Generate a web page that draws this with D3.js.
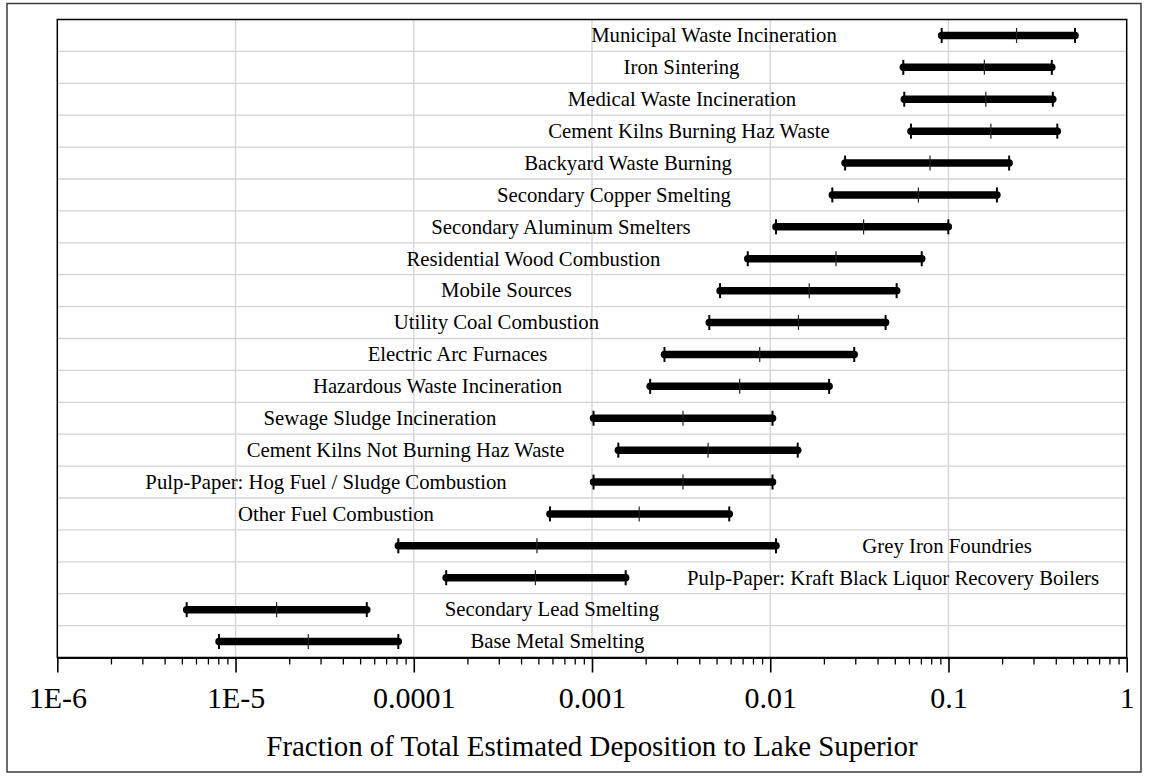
<!DOCTYPE html>
<html>
<head>
<meta charset="utf-8">
<script src="https://cdn.jsdelivr.net/npm/d3@7"></script>
<style>
  html, body { margin: 0; padding: 0; background: #fff; }
  svg { display: block; }
</style>
</head>
<body>
<svg id="chart" width="1149" height="776"></svg>
<script>
// ---- Data ----
const categories = [
  "Municipal Waste Incineration",
  "Iron Sintering",
  "Medical Waste Incineration",
  "Cement Kilns Burning Haz Waste",
  "Backyard Waste Burning",
  "Secondary Copper Smelting",
  "Secondary Aluminum Smelters",
  "Residential Wood Combustion",
  "Mobile Sources",
  "Utility Coal Combustion",
  "Electric Arc Furnaces",
  "Hazardous Waste Incineration",
  "Sewage Sludge Incineration",
  "Cement Kilns Not Burning Haz Waste",
  "Pulp-Paper: Hog Fuel / Sludge Combustion",
  "Other Fuel Combustion",
  "Grey Iron Foundries",
  "Pulp-Paper: Kraft Black Liquor Recovery Boilers",
  "Secondary Lead Smelting",
  "Base Metal Smelting"
];
const lowValues  = [0.0916, 0.0558, 0.0565, 0.0616, 0.0263, 0.0223, 0.01077, 0.00748, 0.00523, 0.00455,
                    0.00255, 0.00212, 0.00102, 0.001405, 0.00102, 0.000581, 0.0000819, 0.000152, 0.00000532, 0.00000808];
const midValues  = [0.241, 0.159, 0.162, 0.173, 0.0788, 0.0678, 0.0334, 0.0234, 0.01656, 0.0144,
                    0.00873, 0.00674, 0.00324, 0.00448, 0.00324, 0.00184, 0.000491, 0.000481, 0.0000170, 0.0000256];
const highValues = [0.513, 0.380, 0.385, 0.408, 0.219, 0.187, 0.0998, 0.0708, 0.0512, 0.0444,
                    0.0296, 0.0214, 0.0103, 0.01426, 0.0103, 0.00589, 0.01077, 0.001545, 0.0000545, 0.0000819];
// centre of each label, in data units
const labelAt    = [0.004837, 0.003178, 0.003199, 0.003502, 0.001593, 0.001329, 0.000670, 0.000469, 0.000331, 0.000291,
                    0.000176, 0.0001359, 0.0000646, 0.0000899, 0.0000322, 0.0000366, 0.0982, 0.0489, 0.000596, 0.000640];
const majorTicks = [1e-6, 1e-5, 1e-4, 1e-3, 1e-2, 1e-1, 1];
const tickLabels = ["1E-6", "1E-5", "0.0001", "0.001", "0.01", "0.1", "1"];
const axisTitle = "Fraction of Total Estimated Deposition to Lake Superior";

// ---- Layout ----
const FONT = "Liberation Serif";
const svg = d3.select("#chart");
const pL = 57.3, pR = 1126.7, pT = 19.5, pB = 657.5;

const x = d3.scaleLog().domain([1e-6, 1]).range([pL, pR]);
const y = d3.scaleBand().domain(categories).range([pT, pB]).padding(0);

// outer frame
svg.append("rect").attr("x", 7).attr("y", 3.5).attr("width", 1134).attr("height", 768.5)
  .attr("fill", "none").attr("stroke", "#3c3c3c").attr("stroke-width", 1.5);

// gridlines
const grid = svg.append("g");
grid.selectAll("line.v").data(majorTicks.slice(1, -1)).join("line").attr("class", "v")
  .attr("x1", d => x(d)).attr("x2", d => x(d)).attr("y1", pT).attr("y2", pB)
  .attr("stroke", "#d3d3d3").attr("stroke-width", 1.3);
grid.selectAll("line.h").data(categories.slice(1)).join("line").attr("class", "h")
  .attr("x1", pL).attr("x2", pR).attr("y1", d => y(d)).attr("y2", d => y(d))
  .attr("stroke", "#d3d3d3").attr("stroke-width", 1.3);

// axes
const minorTicks = [];
for (let e = -6; e < 0; e++) for (let m = 2; m <= 9; m++) minorTicks.push(m * Math.pow(10, e));

const minorAxis = svg.append("g").attr("transform", `translate(0,${pB})`)
  .call(d3.axisBottom(x).tickValues(minorTicks).tickSize(7).tickSizeOuter(0).tickFormat(""));
const majorAxis = svg.append("g").attr("transform", `translate(0,${pB})`)
  .call(d3.axisBottom(x).tickValues(majorTicks).tickSize(15).tickSizeOuter(0).tickPadding(14)
    .tickFormat((d, i) => tickLabels[i]));
[minorAxis, majorAxis].forEach(g => {
  g.attr("font-family", FONT);
  g.select(".domain").attr("stroke", "#000").attr("stroke-width", 1.5);
  g.selectAll(".tick line").attr("stroke", "#000").attr("stroke-width", 1.3);
});
majorAxis.selectAll(".tick line").attr("stroke-width", 1.6);
majorAxis.selectAll(".tick text")
  .attr("font-family", FONT).attr("font-size", 30).attr("fill", "#000");

// plot frame
svg.append("rect").attr("x", pL).attr("y", pT).attr("width", pR - pL).attr("height", pB - pT)
  .attr("fill", "none").attr("stroke", "#000").attr("stroke-width", 1.5);

// axis title
svg.append("text").attr("x", (pL + pR) / 2).attr("y", 755.7).attr("text-anchor", "middle")
  .attr("font-family", FONT).attr("font-size", 28.9).attr("fill", "#000").text(axisTitle);

// range bars
const rows = categories.map((c, i) => ({c, lo: lowValues[i], mid: midValues[i], hi: highValues[i], lab: labelAt[i]}));
const bars = svg.append("g").selectAll("g").data(rows).join("g")
  .attr("transform", d => `translate(0,${y(d.c) + y.bandwidth() / 2})`);

bars.append("line").attr("x1", d => x(d.lo)).attr("x2", d => x(d.hi)).attr("y1", 0).attr("y2", 0)
  .attr("stroke", "#000").attr("stroke-width", 7.5).attr("stroke-linecap", "round");
bars.append("line").attr("x1", d => x(d.lo)).attr("x2", d => x(d.lo)).attr("y1", -7.5).attr("y2", 7.5)
  .attr("stroke", "#000").attr("stroke-width", 2);
bars.append("line").attr("x1", d => x(d.hi)).attr("x2", d => x(d.hi)).attr("y1", -7.5).attr("y2", 7.5)
  .attr("stroke", "#000").attr("stroke-width", 2);
bars.append("line").attr("x1", d => x(d.mid)).attr("x2", d => x(d.mid)).attr("y1", -7.5).attr("y2", 7.5)
  .attr("stroke", "#222").attr("stroke-width", 1.2);

bars.append("text").attr("x", d => x(d.lab)).attr("y", 6.8).attr("text-anchor", "middle")
  .attr("font-family", FONT).attr("font-size", 20.75).attr("fill", "#000").text(d => d.c);
</script>
</body>
</html>
